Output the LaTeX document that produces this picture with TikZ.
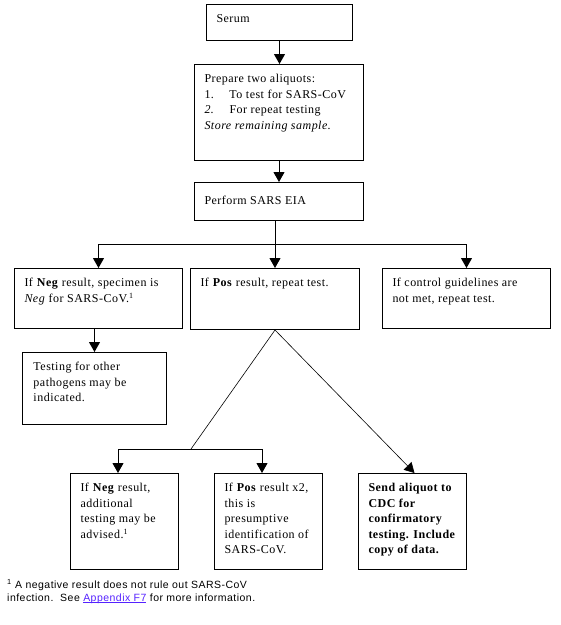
\documentclass[tikz,border=0pt]{standalone}
\usepackage{fontspec}
\setmainfont{Liberation Serif}[LetterSpace=4]
\newfontfamily\footfont{Liberation Sans}[LetterSpace=4.5]
\usetikzlibrary{arrows.meta,calc}
\definecolor{linkcol}{HTML}{5522FF}
\newcommand\bxt[3]{\parbox[t][#2][t]{#1}{\fontsize{12}{15.5}\selectfont\begin{tabular}[t]{@{}l@{}}#3\end{tabular}}}
\newcommand\ulink[1]{\leavevmode\setbox0\hbox{#1}\rlap{\rule[-1.2pt]{\wd0}{0.7pt}}\box0}
\begin{document}
\begin{tikzpicture}[x=1pt,y=-1pt,
  box/.style={draw, line width=1pt, anchor=north west, inner xsep=10pt, inner ysep=7.5pt},
  conn/.style={line width=1pt, -{Triangle[width=11pt,length=10pt]}},
  plain/.style={line width=1pt},
  diag/.style={line width=0.6pt}]
\useasboundingbox (0,0) rectangle (561,625);
\node[box] (serum) at (206,4) {\bxt{126pt}{21pt}{Serum}};
\node[box] (prep) at (194,64) {\bxt{149pt}{81pt}{Prepare two aliquots:\\ \makebox[25pt][l]{1.}To test for SARS-CoV\\ \makebox[25pt][l]{\textit{2.}}For repeat testing\\ \textit{Store remaining sample.}}};
\node[box, inner ysep=11pt] (perf) at (194,182) {\bxt{149pt}{16pt}{Perform SARS EIA}};
\node[box] (neg) at (14,268) {\bxt{148pt}{45pt}{If \textbf{Neg} result, specimen is\\ \textit{Neg} for SARS-CoV.\textsuperscript{1}}};
\node[box] (pos) at (190,268) {\bxt{149pt}{46pt}{If \textbf{Pos} result, repeat test.}};
\node[box] (ctrl) at (382,268) {\bxt{148pt}{45pt}{If control guidelines are\\ not met, repeat test.}};
\node[box, inner xsep=11pt] (test) at (22,352) {\bxt{122pt}{57pt}{Testing for other\\ pathogens may be\\ indicated.}};
\node[box] (neg2) at (70,473) {\bxt{88pt}{81pt}{If \textbf{Neg} result,\\ additional\\ testing may be\\ advised.\textsuperscript{1}}};
\node[box] (pos2) at (214,473) {\bxt{88pt}{81pt}{If \textbf{Pos} result x2,\\ this is\\ presumptive\\ identification of\\ SARS-CoV.}};
\node[box] (send) at (358,473) {\bxt{88pt}{81pt}{\bfseries Send aliquot to\\ \bfseries CDC for\\ \bfseries confirmatory\\ \bfseries testing. Include\\ \bfseries copy of data.}};
\node[anchor=base west, inner sep=0pt, font=\footfont] (fn) at (7,588) {\fontsize{10.5}{13}\selectfont\begin{tabular}[t]{@{}l@{}}\textsuperscript{1} A negative result does not rule out SARS-CoV\\ infection.\ \ See \textcolor{linkcol}{\ulink{Appendix F7}} for more information.\end{tabular}};
% connectors
\draw[conn] (serum.south) -- (serum.south |- prep.north);
\draw[conn] (prep.south) -- (prep.south |- perf.north);
\coordinate (br) at (275,244);
\draw[plain] (perf.south -| br) -- (br);
\draw[conn] (br) -| (neg.north);
\draw[conn] (br) -| (ctrl.north);
\draw[conn] (br) -- (br |- pos.north);
\draw[conn] (test.north |- neg.south) -- (test.north);
\coordinate (j) at (191,449);
\coordinate (n2a) at ($(neg2.north west)+(48,0)$);
\coordinate (p2a) at ($(pos2.north west)+(48,0)$);
\draw[diag] (pos.south) -- (j);
\draw[conn] (j) -| (n2a);
\draw[conn] (j) -| (p2a);
\draw[diag, -{Triangle[width=11pt,length=10pt]}] (pos.south) -- ($(send.north)+(2,0)$);
\end{tikzpicture}
\end{document}
